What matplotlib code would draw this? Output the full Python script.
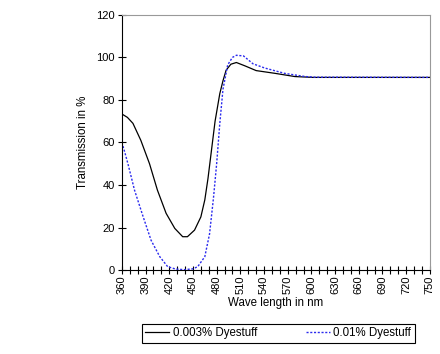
import matplotlib.pyplot as plt
import numpy as np

wl_low = [360, 367, 374, 384, 395, 405, 416, 427, 437, 443, 452, 460, 465, 469,
          473, 478, 484, 488, 492, 498, 505, 516, 530, 554, 579, 602, 750]
t_low = [73.4, 71.8, 69, 61, 50, 37.6, 26.7, 19.6, 15.7, 15.7, 18.8, 25, 33, 43,
         55, 70, 83, 89, 94, 96.8, 97.6, 96, 93.8, 92.5, 91, 90.6, 90.6]

wl_high = [360, 364, 368, 376, 387, 397, 408, 418, 428, 439, 450, 456, 465, 471,
           476, 480, 484, 488, 494, 500, 505, 514, 526, 541, 566, 592, 604, 750]
t_high = [60, 55, 49.5, 37.6, 25, 14, 6.3, 1.6, 0.5, 0.2, 0.6, 1.6, 6.3, 17,
          34, 50, 69, 85, 96.5, 100, 101, 100.7, 97, 95, 92.5, 91, 90.7, 90.6]

label_low = '0.003% Dyestuff'
label_high = '0.01% Dyestuff'

plt.rcParams['font.family'] = 'Liberation Sans'

fig = plt.figure(figsize=(4.4, 3.54), dpi=100)
ax = fig.add_axes([0.277, 0.237, 0.7, 0.721])

ax.plot(wl_low, t_low, color='black', lw=0.9, label=label_low)
ax.plot(wl_high, t_high, color='#2a2aee', lw=1.0, linestyle=(0, (1.5, 1.2)), label=label_high)

ax.set_xlim(360, 750)
ax.set_ylim(0, 120)
ax.set_xticks(np.arange(360, 751, 30))
ax.set_xticks(np.arange(360, 751, 10), minor=True)
ax.set_yticks(np.arange(0, 121, 20))
ax.tick_params(axis='both', which='both', direction='inout', length=6, width=0.8, labelsize=8)
ax.tick_params(axis='x', which='major', labelrotation=90, pad=1)
ax.tick_params(axis='y', pad=2)

for s in ['top', 'right']:
    ax.spines[s].set_color('#999999')
    ax.spines[s].set_linewidth(0.8)
for s in ['left', 'bottom']:
    ax.spines[s].set_linewidth(0.8)

ax.set_xlabel('Wave length in nm', fontsize=8.3, labelpad=2)
ax.set_ylabel('Transmission in %', fontsize=8.3, labelpad=5)

leg = fig.legend(loc='center', bbox_to_anchor=(0.632, 0.059), ncol=2, fontsize=8.3,
                 fancybox=False, edgecolor='black', framealpha=1, handlelength=2.1,
                 columnspacing=4.2, borderpad=0.3, handletextpad=0.3, borderaxespad=0)
leg.get_frame().set_linewidth(0.8)

fig.savefig('out.png', dpi=100)
